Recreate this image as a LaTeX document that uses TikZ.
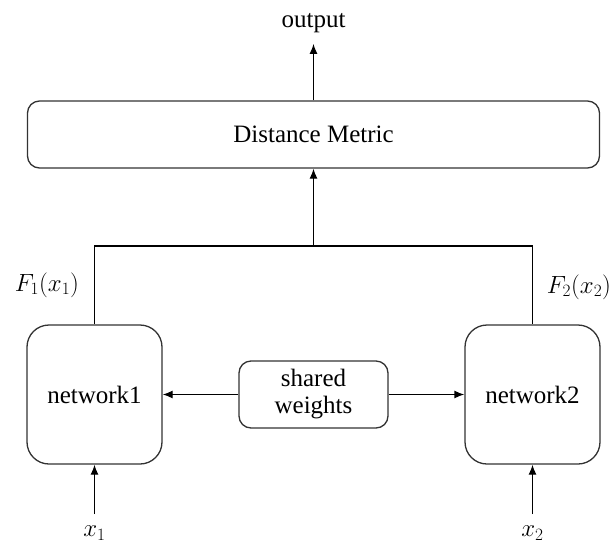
\documentclass[tikz,border=0pt]{standalone}
\usepackage{fontspec}
\setmainfont{Liberation Serif}
\usetikzlibrary{arrows.meta,calc}
\begin{document}
\begin{tikzpicture}[x=1pt,y=-1pt,
  font=\fontsize{25}{28}\selectfont,
  line width=1.3pt,
  box/.style={draw=black!80, rounded corners=#1, align=center, inner sep=0pt},
  arr/.style={-{Latex[length=10pt,width=8pt]}},
  lbl/.style={inner sep=0pt},
  mlbl/.style={inner sep=0pt, font=\fontsize{27}{30}\selectfont}]
\useasboundingbox (0,0) rectangle (614,547);

% blocks
\node[box=12pt, minimum width=572pt, minimum height=67pt] (dm) at (313.5,134.5) {Distance Metric};
\node[box=22pt, minimum width=135pt, minimum height=139pt] (n1) at (94.5,394.5) {network1};
\node[box=22pt, minimum width=135pt, minimum height=139pt] (n2) at (532.5,394.5) {network2};
\node[box=12pt, minimum width=149pt, minimum height=67pt, font=\fontsize{25}{27}\selectfont] (sw) at (313.5,394.5) {shared\\weights};

% labels
\node[lbl] (out) at (313.5,23.5) {output};
\node[mlbl] (f1) at (47,285) {$F_1(x_1)$};
\node[mlbl] (f2) at (579,287) {$F_2(x_2)$};
\node[mlbl] (x1) at (94.5,533) {$x_1$};
\node[mlbl] (x2) at (532.5,533) {$x_2$};
\coordinate (join) at (313.5,246);

% connectors
\draw (n1.north) -- (n1.north |- join) -- (n2.north |- join) -- (n2.north);
\draw[arr] (join) -- (dm.south);
\draw[arr, shorten >=10pt] (dm.north) -- (out.south);
\draw[arr] (sw.west) -- (n1.east);
\draw[arr] (sw.east) -- (n2.west);
\draw[arr, shorten <=11pt] (x1.north) -- (n1.south);
\draw[arr, shorten <=11pt] (x2.north) -- (n2.south);
\end{tikzpicture}
\end{document}
